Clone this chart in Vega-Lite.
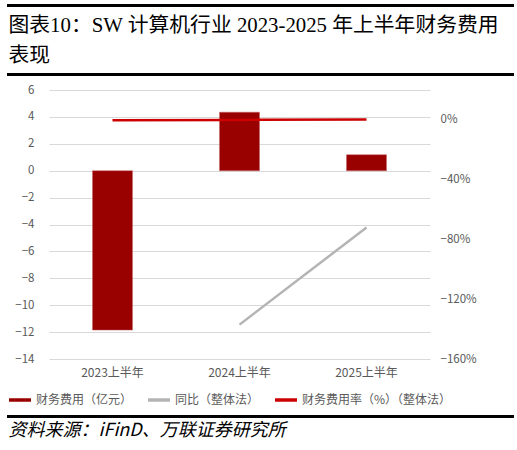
{
  "$schema": "https://vega.github.io/schema/vega-lite/v6.json",
  "background": "white",
  "padding": {"left": 5, "top": 4, "right": 5, "bottom": 0},
  "spacing": 8,
  "config": {
    "view": {"stroke": null},
    "font": "Noto Sans CJK SC"
  },
  "resolve": {"scale": {"color": "independent"}, "legend": {"color": "independent"}},
  "datasets": {
    "h1": [
      {"period": "2023上半年", "fee": -11.85, "yoy": null, "rate": -0.002},
      {"period": "2024上半年", "fee": 4.35, "yoy": -1.37, "rate": 0.0},
      {"period": "2025上半年", "fee": 1.19, "yoy": -0.72, "rate": 0.002}
    ],
    "one": [{"k": 1, "a": 0, "b": 1}]
  },
  "vconcat": [
    {
      "width": 507,
      "height": 3,
      "data": {"name": "one"},
      "mark": {"type": "rule", "color": "#000000", "strokeWidth": 3},
      "encoding": {
        "x": {"field": "a", "type": "quantitative", "scale": {"domain": [0, 1], "range": [0, 507]}, "axis": null},
        "x2": {"field": "b"},
        "y": {"field": "k", "type": "quantitative", "scale": {"domain": [0, 2], "range": [3, 0]}, "axis": null}
      }
    },
    {
      "width": 507,
      "height": 3,
      "title": {
        "text": ["图表10：SW 计算机行业 2023-2025 年上半年财务费用", "　　表现"],
        "anchor": "start",
        "dx": 3,
        "font": "Liberation Serif, Noto Sans CJK SC",
        "fontSize": 20.8,
        "fontWeight": "normal",
        "color": "#000000",
        "lineHeight": 30,
        "offset": 6
      },
      "data": {"name": "one"},
      "mark": {"type": "rule", "color": "#000000", "strokeWidth": 3},
      "encoding": {
        "x": {"field": "a", "type": "quantitative", "scale": {"domain": [0, 1], "range": [0, 507]}, "axis": null},
        "x2": {"field": "b"},
        "y": {"field": "k", "type": "quantitative", "scale": {"domain": [0, 2], "range": [3, 0]}, "axis": null}
      }
    },
    {
      "spacing": 0,
      "hconcat": [
        {
          "width": 7,
          "height": 1,
          "data": {"name": "one"},
          "mark": {"type": "text"},
          "encoding": {"text": {"value": ""}}
        },
        {
          "width": 381,
          "height": 269,
          "data": {"name": "h1"},
          "layer": [
            {
              "mark": {"type": "bar", "stroke": "#c86464", "strokeWidth": 0.5},
              "encoding": {
                "x": {
                  "field": "period",
                  "type": "nominal",
                  "sort": null,
                  "scale": {"paddingInner": 0.685, "paddingOuter": 0.3425},
                  "axis": {
                    "title": null,
                    "labelAngle": 0,
                    "domain": false,
                    "ticks": false,
                    "labelColor": "#595959",
                    "labelFontSize": 12,
                    "labelPadding": 8
                  }
                },
                "y": {
                  "field": "fee",
                  "type": "quantitative",
                  "scale": {"domain": [-14, 6], "nice": false},
                  "axis": {
                    "title": null,
                    "values": [-14, -12, -10, -8, -6, -4, -2, 0, 2, 4, 6],
                    "domain": false,
                    "ticks": false,
                    "grid": true,
                    "gridColor": "#d9d9d9",
                    "labelColor": "#595959",
                    "labelFontSize": 11.5,
                    "labelPadding": 15
                  }
                },
                "color": {
                  "datum": "财务费用（亿元）",
                  "scale": {
                    "domain": ["财务费用（亿元）", "同比（整体法）", "财务费用率（%）（整体法）"],
                    "range": ["#990000", "#b4b4b4", "#cc0000"]
                  },
                  "legend": {
                    "title": null,
                    "orient": "bottom",
                    "direction": "horizontal",
                    "offset": 9,
                    "symbolType": "stroke",
                    "symbolSize": 484,
                    "symbolStrokeWidth": 3.5,
                    "labelFontSize": 12,
                    "labelColor": "#595959",
                    "labelOffset": 3,
                    "columnPadding": 8
                  }
                }
              }
            },
            {
              "layer": [
                {
                  "mark": {"type": "line", "strokeWidth": 2.5},
                  "encoding": {
                    "x": {"field": "period", "type": "nominal", "sort": null},
                    "y": {
                      "field": "yoy",
                      "type": "quantitative",
                      "scale": {"domain": [-1.6, 0.2], "nice": false},
                      "axis": {
                        "title": null,
                        "orient": "right",
                        "format": ".0%",
                        "values": [-1.6, -1.4, -1.2, -1, -0.8, -0.6, -0.4, -0.2, 0, 0.2],
                        "domain": false,
                        "ticks": false,
                        "grid": false,
                        "labelColor": "#595959",
                        "labelFontSize": 11.5,
                        "labelPadding": 10
                      }
                    },
                    "color": {"datum": "同比（整体法）"}
                  }
                },
                {
                  "mark": {"type": "line", "strokeWidth": 2.5},
                  "encoding": {
                    "x": {"field": "period", "type": "nominal", "sort": null},
                    "y": {"field": "rate", "type": "quantitative"},
                    "color": {"datum": "财务费用率（%）（整体法）"}
                  }
                }
              ]
            }
          ],
          "resolve": {"scale": {"y": "independent"}}
        }
      ]
    },
    {
      "width": 507,
      "height": 3,
      "title": {
        "text": "资料来源：iFinD、万联证券研究所",
        "orient": "bottom",
        "anchor": "start",
        "dx": 3,
        "font": "Noto Sans CJK SC",
        "fontSize": 18,
        "fontStyle": "italic",
        "fontWeight": "normal",
        "color": "#000000",
        "offset": 4
      },
      "data": {"name": "one"},
      "mark": {"type": "rule", "color": "#000000", "strokeWidth": 3},
      "encoding": {
        "x": {"field": "a", "type": "quantitative", "scale": {"domain": [0, 1], "range": [0, 507]}, "axis": null},
        "x2": {"field": "b"},
        "y": {"field": "k", "type": "quantitative", "scale": {"domain": [0, 2], "range": [3, 0]}, "axis": null}
      }
    }
  ]
}
